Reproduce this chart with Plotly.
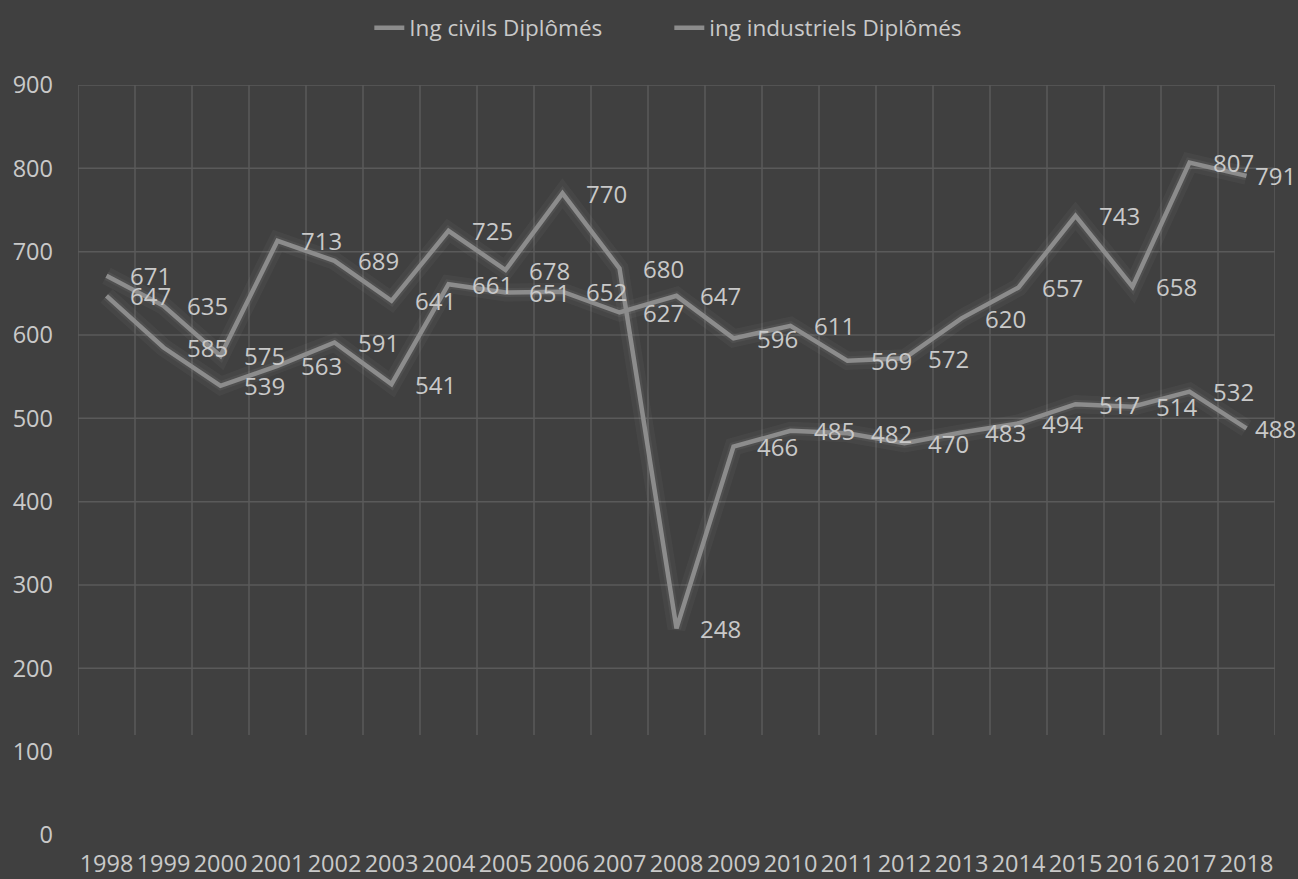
import plotly.graph_objects as go

years = [str(y) for y in range(1998, 2019)]
civils = [671, 635, 575, 713, 689, 641, 725, 678, 770, 680, 248, 466, 485, 482, 470, 483, 494, 517, 514, 532, 488]
industriels = [647, 585, 539, 563, 591, 541, 661, 651, 652, 627, 647, 596, 611, 569, 572, 620, 657, 743, 658, 807, 791]
series_names = ["Ing civils Diplômés", "ing industriels Diplômés"]
y_ticks = [0, 100, 200, 300, 400, 500, 600, 700, 800, 900]

BG = "#404040"
LINE = "#8c8c8c"
TEXT = "#c9c9c9"
GRID = "#5a5a5a"
FONT = "Open Sans"

fig = go.Figure()

for vals in (civils, industriels):
    fig.add_trace(go.Scatter(x=years, y=vals, mode="lines", showlegend=False, hoverinfo="skip",
                             line=dict(color="rgba(255,255,255,0.035)", width=18)))
    fig.add_trace(go.Scatter(x=years, y=vals, mode="lines", showlegend=False, hoverinfo="skip",
                             line=dict(color="rgba(255,255,255,0.05)", width=9)))

for name, vals in zip(series_names, (civils, industriels)):
    fig.add_trace(go.Scatter(x=years, y=vals, mode="lines", name=name,
                             line=dict(color=LINE, width=4.5)))

n = len(years)
annotations = []
for vals in (civils, industriels):
    for i, v in enumerate(vals):
        # category axis: position by category index
        annotations.append(dict(x=i, y=v, xref="x", yref="y", text=str(v), showarrow=False,
                                xanchor="left", yanchor="middle",
                                xshift=6 if i == n - 1 else 21,
                                font=dict(family=FONT, size=24, color=TEXT)))

shapes = []
for i in range(n + 1):
    shapes.append(dict(type="line", xref="x", yref="y", x0=i - 0.5, x1=i - 0.5, y0=120, y1=900,
                       line=dict(color=GRID, width=1.5), layer="below"))
for v in y_ticks:
    if v >= 200:
        shapes.append(dict(type="line", xref="x", yref="y", x0=-0.5, x1=n - 0.5, y0=v, y1=v,
                           line=dict(color=GRID, width=1.5), layer="below"))

fig.update_layout(
    width=1298, height=879,
    paper_bgcolor=BG, plot_bgcolor=BG,
    margin=dict(l=78, r=23, t=85, b=44, autoexpand=False),
    font=dict(family=FONT, size=23, color=TEXT),
    showlegend=True,
    legend=dict(orientation="h", x=0.494, xanchor="center", y=1.076, yanchor="middle",
                font=dict(family=FONT, size=22.5, color=TEXT), bgcolor="rgba(0,0,0,0)",
                entrywidth=255, entrywidthmode="pixels"),
    shapes=shapes,
    annotations=annotations,
    xaxis=dict(type="category", range=[-0.5, n - 0.5], showgrid=False, zeroline=False,
               showline=False, ticks="", automargin=False, ticklabelstandoff=12,
               tickfont=dict(family=FONT, size=23.5, color=TEXT)),
    yaxis=dict(range=[0, 900], tickvals=y_ticks, showgrid=False, zeroline=False,
               showline=False, ticks="", automargin=False, ticklabelstandoff=24,
               tickfont=dict(family=FONT, size=23.5, color=TEXT)),
)

fig.write_html("out.html", config={"displayModeBar": False},
               post_script="document.body.style.margin='0';document.body.style.overflow='hidden';")
